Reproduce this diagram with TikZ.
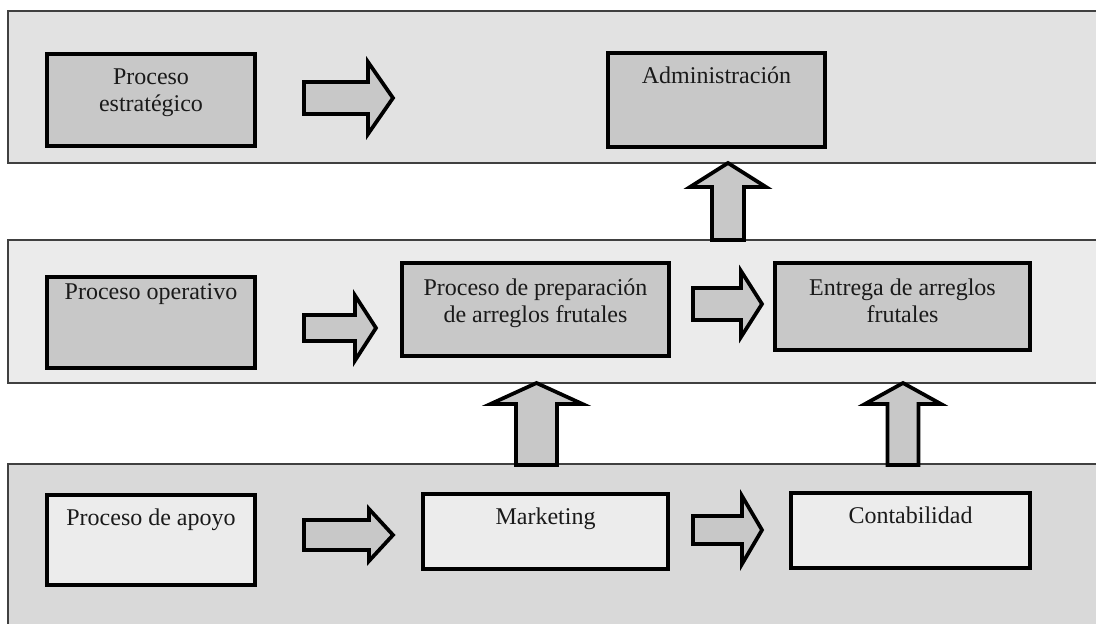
\documentclass[tikz,border=0pt]{standalone}
\usepackage{fontspec}
\setmainfont{Liberation Serif}
\usetikzlibrary{fit,calc}
\definecolor{bandtop}{HTML}{E2E2E2}
\definecolor{bandmid}{HTML}{EBEBEB}
\definecolor{bandlow}{HTML}{D9D9D9}
\definecolor{boxdark}{HTML}{C8C8C8}
\definecolor{boxlight}{HTML}{ECECEC}
\definecolor{bandline}{HTML}{404040}
\definecolor{labeltext}{HTML}{1A1A1A}

\begin{document}
\begin{tikzpicture}[x=0.75pt,y=-0.75pt,
  band/.style={draw=bandline,line width=1pt,inner sep=0pt},
  procbox/.style={draw=black,line width=3pt,inner sep=0pt},
  lbl/.style={font=\fontsize{18}{20.25}\selectfont,align=center,inner sep=0pt,anchor=north,text=labeltext},
  arr/.style={draw=black,line width=2.8pt,fill=boxdark,line join=miter},
  % block arrow pointing along +x: total length, head base, shaft half width, head half width
  pics/blockarrow/.style n args={4}{code={
    \draw[arr] (0,-#3) -- (#2,-#3) -- (#2,-#4) -- (#1,0) -- (#2,#4) -- (#2,#3) -- (0,#3) -- cycle;
  }}
]
\clip (0,0) rectangle (1096,624);
\fill[white] (0,0) rectangle (1096,624);

% three process bands
\node[band,fill=bandtop,fit={(8,11) (1110,163)}] (strat) {};
\node[band,fill=bandmid,fit={(8,240) (1110,383)}] (oper) {};
\node[band,fill=bandlow,fit={(8,464) (1110,640)}] (apoyo) {};

% boxes
\node[procbox,fill=boxdark,fit={(47,54) (255,146)}] (b1) {};
\node[procbox,fill=boxdark,fit={(608,53) (825,147)}] (b2) {};
\node[procbox,fill=boxdark,fit={(47,277) (255,368)}] (b3) {};
\node[procbox,fill=boxdark,fit={(402,263) (669,356)}] (b4) {};
\node[procbox,fill=boxdark,fit={(775,263) (1030,350)}] (b5) {};
\node[procbox,fill=boxlight,fit={(47,495) (255,585)}] (b6) {};
\node[procbox,fill=boxlight,fit={(423,494) (668,569)}] (b7) {};
\node[procbox,fill=boxlight,fit={(791,493) (1030,568)}] (b8) {};

% labels
\node[lbl] (t1) at ($(b1.north)+(0,17)$) {Proceso\\estratégico};
\node[lbl] (t2) at ($(b2.north)+(0,16)$) {Administración};
\node[lbl] (t3) at ($(b3.north)+(0,8)$) {Proceso operativo};
\node[lbl] (t4) at ($(b4.north)+(0,18)$) {Proceso de preparación\\de arreglos frutales};
\node[lbl] (t5) at ($(b5.north)+(0,18)$) {Entrega de arreglos\\frutales};
\node[lbl] (t6) at ($(b6.north)+(0,16)$) {Proceso de apoyo};
\node[lbl] (t7) at ($(b7.north)+(0,16)$) {Marketing};
\node[lbl] (t8) at ($(b8.north)+(0,16)$) {Contabilidad};

% arrow tails
\coordinate (a1) at (304,98);
\coordinate (a2) at (304,328);
\coordinate (a3) at (693,304);
\coordinate (a4) at (304,535);
\coordinate (a5) at (693,530);
\coordinate (u1) at (728,240);
\coordinate (u2) at (536.5,465);
\coordinate (u3) at (903,465);

% horizontal block arrows
\pic at (a1) {blockarrow={89}{64}{16}{36}};
\pic at (a2) {blockarrow={72}{51}{13}{32.5}};
\pic at (a3) {blockarrow={69}{48}{16}{33}};
\pic at (a4) {blockarrow={89}{65}{15}{26}};
\pic at (a5) {blockarrow={69}{49}{14}{34}};

% upward block arrows between bands
\pic[rotate=90] at (u1) {blockarrow={77}{53}{16}{38}};
\pic[rotate=90] at (u2) {blockarrow={82}{61}{20.5}{46}};
\pic[rotate=90] at (u3) {blockarrow={82}{61}{15.5}{38}};
\end{tikzpicture}
\end{document}
